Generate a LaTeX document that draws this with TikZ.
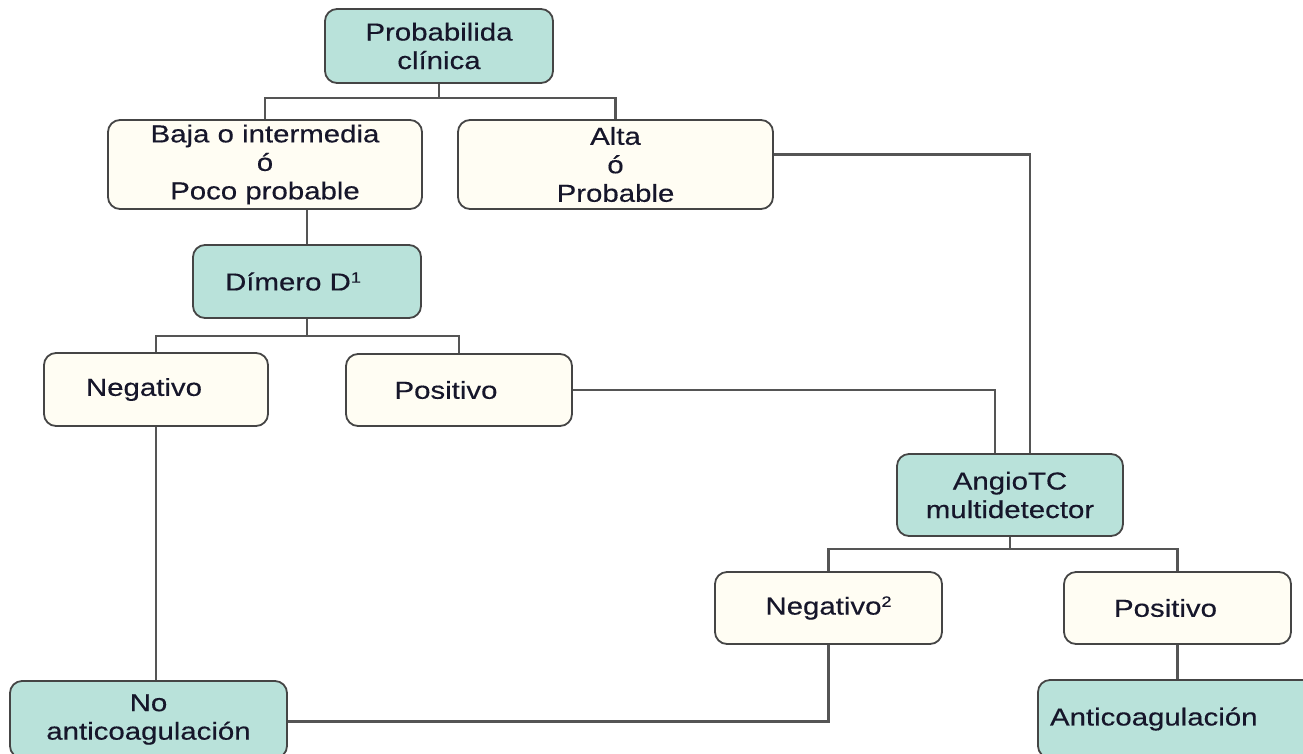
\documentclass[tikz,border=0pt]{standalone}
\usepackage{fontspec}
\setmainfont{Liberation Sans}[FakeStretch=1.2, FakeBold=0.4]
\definecolor{tealfill}{HTML}{B9E2DA}
\definecolor{creamfill}{HTML}{FFFDF3}
\definecolor{boxline}{HTML}{454545}
\definecolor{linkcol}{HTML}{555555}
\definecolor{txt}{HTML}{16162A}
\tikzset{
  box/.style={draw=boxline, line width=1.8pt, rounded corners=12pt, inner sep=0pt,
    align=center, font=\fontsize{24.5}{28.5}\selectfont, text=txt},
  tealbox/.style={box, fill=tealfill},
  creambox/.style={box, fill=creamfill},
  link/.style={draw=linkcol, line width=2.2pt},
}
\newcommand{\supnum}[1]{\raisebox{0.6ex}{\fontsize{15}{15}\selectfont #1}}
\begin{document}
\begin{tikzpicture}[x=1pt, y=-1pt]
\useasboundingbox (0,0) rectangle (1303,753);
\clip (0,0) rectangle (1303,753);

% decision boxes
\node[tealbox, minimum width=228pt, minimum height=74pt] (prob) at (439,46) {Probabilida\\clínica};
\node[creambox, minimum width=314pt, minimum height=89pt] (baja) at (265,164.5) {Baja o intermedia\\ó\\Poco probable};
\node[creambox, minimum width=315pt, minimum height=89pt] (alta) at (615.5,164.5) {Alta\\ó\\Probable};
\node[tealbox, minimum width=228pt, minimum height=73pt] (dimero) at (307,281.5) {Dímero D\supnum{1}\hspace*{28pt}};
\node[creambox, minimum width=224pt, minimum height=73pt] (neg) at (156,389.5) {Negativo\hspace*{24pt}};
\node[creambox, minimum width=226pt, minimum height=72pt] (pos) at (459,390) {Positivo\hspace*{26pt}};
\node[tealbox, minimum width=226pt, minimum height=82pt] (angio) at (1010,495) {AngioTC\\multidetector};
\node[creambox, minimum width=227pt, minimum height=72pt] (neg2) at (828.5,608) {Negativo\supnum{2}};
\node[creambox, minimum width=227pt, minimum height=72pt] (pos2) at (1177.5,608) {Positivo\hspace*{24pt}};
\node[tealbox, minimum width=277pt, minimum height=77pt] (noanti) at (148.5,719.5) {No\\anticoagulación};
\node[tealbox, text width=258pt, inner xsep=12pt, minimum height=78pt, align=left] (anti) at (1179,719) {Anticoagulación};

% bus junctions
\coordinate (j1) at (439,98);
\coordinate (j2) at (307,336);
\coordinate (j3) at (1010,549);

% connectors
\draw[link] (prob.south) -- (j1);
\draw[link] (baja.north) |- (j1) -| (alta.north);
\draw[link] (baja.south -| dimero.north) -- (dimero.north);
\draw[link] (dimero.south) -- (j2);
\draw[link] (neg.north) |- (j2) -| (pos.north);
\draw[link] ([yshift=10pt]alta.east) -| ([xshift=20pt]angio.north);
\draw[link] (pos.east) -| ([xshift=-15pt]angio.north);
\draw[link] (neg.south) -- (neg.south |- noanti.north);
\draw[link] (angio.south) -- (j3);
\draw[link] (neg2.north) |- (j3) -| (pos2.north);
\draw[link] (pos2.south) -- (pos2.south |- anti.north);
\draw[link] (neg2.south) |- ([yshift=-2pt]noanti.east);
\end{tikzpicture}
\end{document}
